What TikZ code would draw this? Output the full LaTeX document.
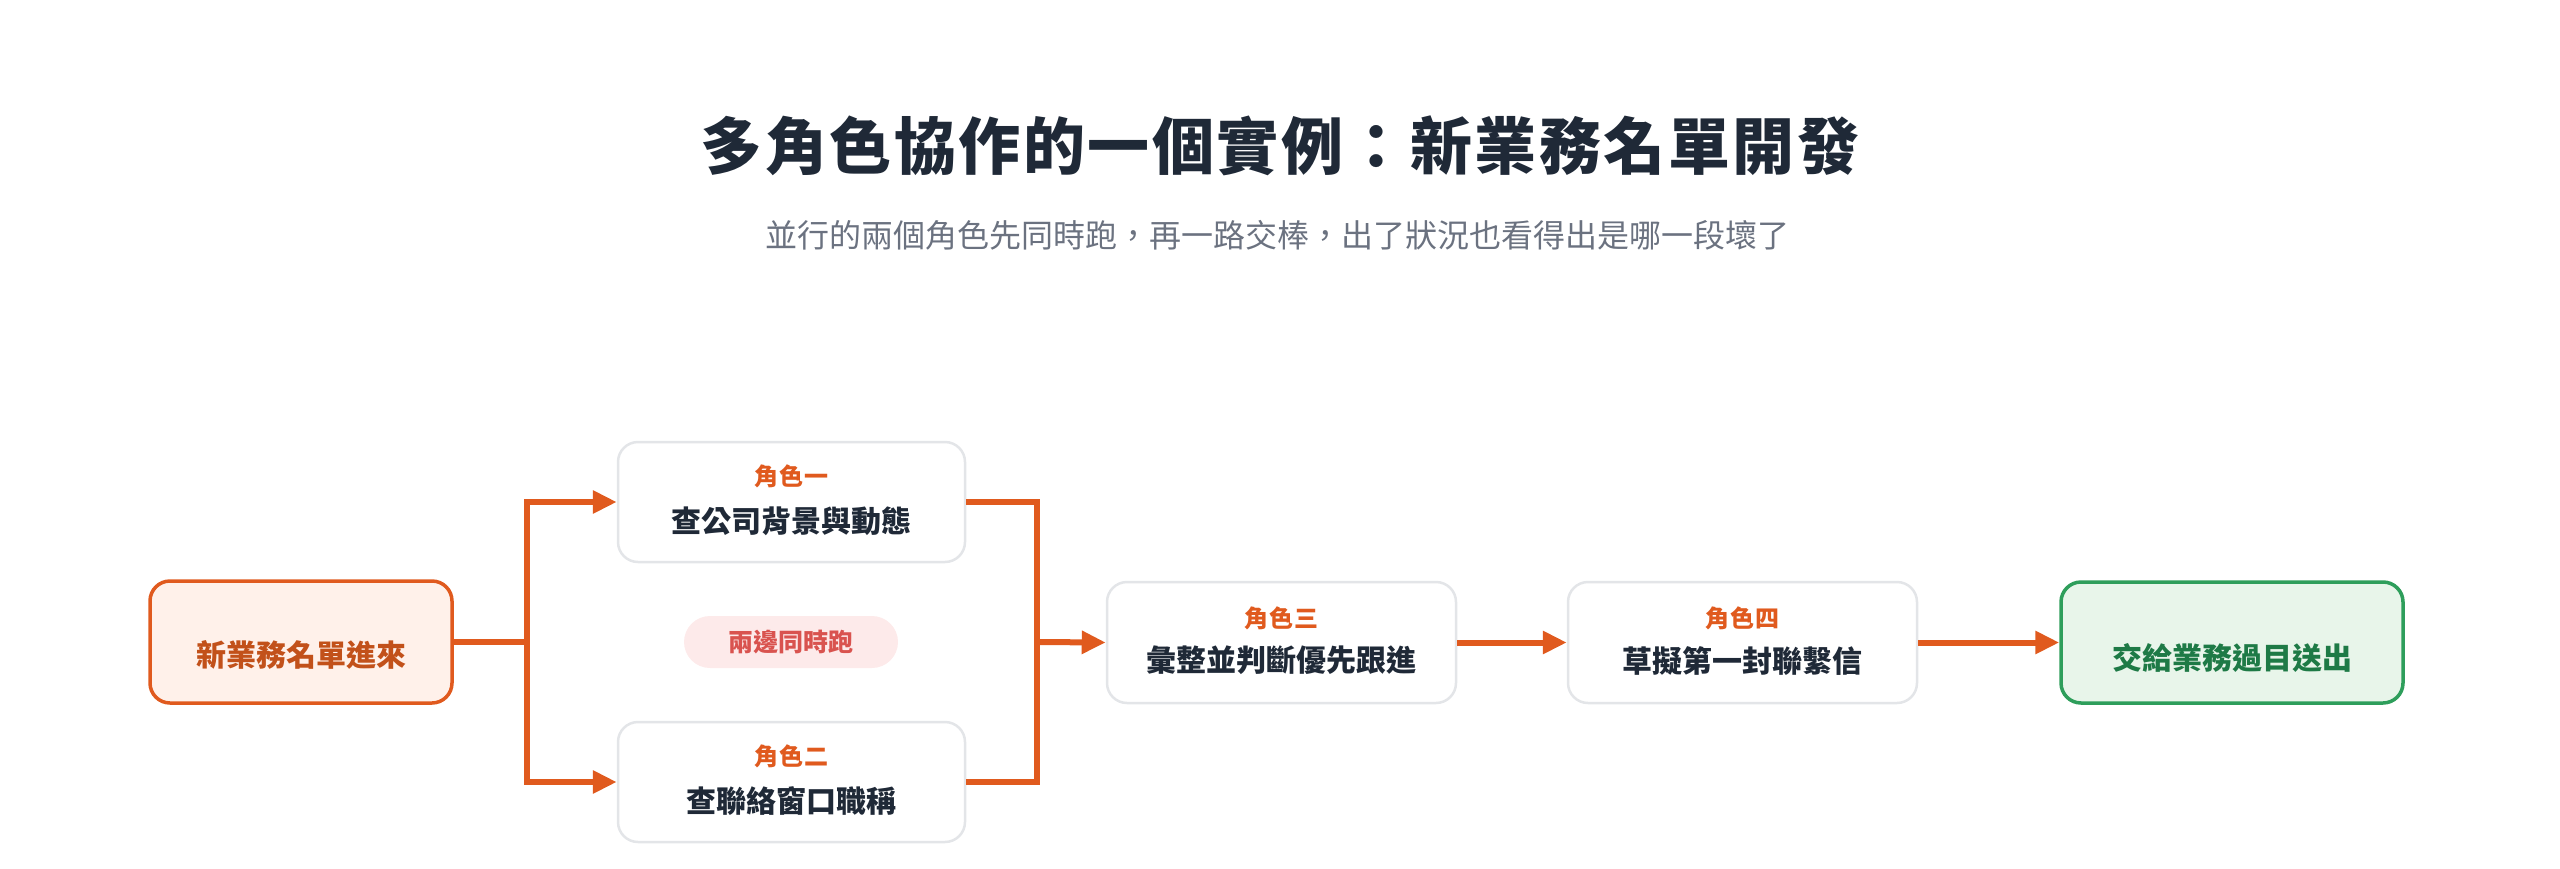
\documentclass[tikz,border=0pt]{standalone}
\usepackage{fontspec}
\setmainfont{Noto Sans CJK TC}
\usetikzlibrary{arrows.meta,positioning}
\definecolor{flow}{HTML}{E05A1E}
\definecolor{startfill}{HTML}{FFF1EA}
\definecolor{starttext}{HTML}{C2511A}
\definecolor{graybd}{HTML}{E3E5E8}
\definecolor{dark}{HTML}{1F2937}
\definecolor{subgray}{HTML}{6B7280}
\definecolor{badgefill}{HTML}{FDEAEA}
\definecolor{badgetext}{HTML}{D9534F}
\definecolor{endfill}{HTML}{E8F5EA}
\definecolor{endbd}{HTML}{2E9E5B}
\definecolor{endtext}{HTML}{1E7A46}
\tikzset{
  startbox/.style={draw=flow, fill=startfill, line width=3.5pt, rounded corners=20pt, minimum width=302pt, minimum height=122pt, inner sep=0pt},
  rolebox/.style={draw=graybd, fill=white, line width=2.5pt, rounded corners=20pt, minimum width=347pt, minimum height=120pt, inner sep=0pt},
  endbox/.style={draw=endbd, fill=endfill, line width=3.5pt, rounded corners=20pt, minimum width=342pt, minimum height=121pt, inner sep=0pt},
  badge/.style={fill=badgefill, rounded corners=26pt, minimum width=214pt, minimum height=52pt, inner sep=0pt, text=badgetext, font=\fontsize{25}{30}\selectfont\bfseries},
  roletag/.style={text=flow, font=\fontsize{24}{30}\selectfont\bfseries\addfontfeature{LetterSpace=6}, inner sep=0pt},
  roletext/.style={text=dark, font=\fontsize{30}{36}\selectfont\bfseries, inner sep=0pt},
  flowline/.style={draw=flow, line width=6pt},
  flowarrow/.style={draw=flow, line width=6pt, -{Triangle[length=24pt,width=22pt]}},
}
\begin{document}
\begin{tikzpicture}[x=1pt,y=-1pt]
\useasboundingbox (0,0) rectangle (2560,868);
\node[text=dark, font=\fontsize{62}{70}\selectfont\bfseries\addfontfeature{LetterSpace=4}, inner sep=0pt] (title) at (1280,146) {多角色協作的一個實例：新業務名單開發};
\node[text=subgray, font=\fontsize{32}{38}\selectfont, inner sep=0pt] (subtitle) at (1277,235) {並行的兩個角色先同時跑，再一路交棒，出了狀況也看得出是哪一段壞了};

\node[startbox] (start) at (301,642) {};
\node[text=starttext, font=\fontsize{30}{36}\selectfont\bfseries, inner sep=0pt] (starttxt) at ([yshift=-13pt]start.center) {新業務名單進來};

\node[rolebox] (r1) at (791.5,502) {};
\node[roletag] (r1tag) at ([yshift=26pt]r1.center) {角色一};
\node[roletext] (r1txt) at ([yshift=-19pt]r1.center) {查公司背景與動態};

\node[rolebox] (r2) at (791.5,782) {};
\node[roletag] (r2tag) at ([yshift=26pt]r2.center) {角色二};
\node[roletext] (r2txt) at ([yshift=-19pt]r2.center) {查聯絡窗口職稱};

\node[badge] (both) at (791,642) {兩邊同時跑};

\node[rolebox, minimum width=349pt, minimum height=121pt] (r3) at (1281.5,642.5) {};
\node[roletag] (r3tag) at ([yshift=24pt]r3.center) {角色三};
\node[roletext] (r3txt) at ([yshift=-18pt]r3.center) {彙整並判斷優先跟進};

\node[rolebox, minimum width=349pt, minimum height=121pt] (r4) at (1742.5,642.5) {};
\node[roletag] (r4tag) at ([yshift=24pt]r4.center) {角色四};
\node[roletext] (r4txt) at ([yshift=-18pt]r4.center) {草擬第一封聯繫信};

\node[endbox] (end) at (2232,642.5) {};
\node[text=endtext, font=\fontsize{30}{36}\selectfont\bfseries, inner sep=0pt] (endtxt) at ([yshift=-15pt]end.center) {交給業務過目送出};

\coordinate (fork) at (527,642);
\coordinate (join) at (1037,642);

\draw[flowline] (start.east) -- (fork);
\draw[flowarrow] (fork) |- (r1.west);
\draw[flowarrow] (fork) |- (r2.west);
\draw[flowline] (r1.east) -| (join);
\draw[flowline] (r2.east) -| (join);
\draw[flowarrow] (join) -- (r3.west);
\draw[flowarrow] (r3.east) -- (r4.west);
\draw[flowarrow] (r4.east) -- (end.west);
\end{tikzpicture}
\end{document}
